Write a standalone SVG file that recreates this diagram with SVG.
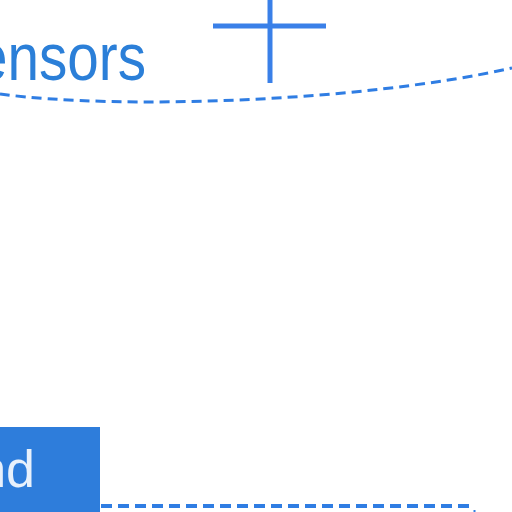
<svg xmlns="http://www.w3.org/2000/svg" width="512" height="512" viewBox="0 0 512 512">
<style>
.lbl{font-family:"Liberation Sans",Arial,sans-serif}
.dash{fill:none;stroke:#2f7de3}
</style>
<rect width="512" height="512" fill="#ffffff"/>
<g id="sensors">
<text class="lbl" x="-24" y="80" font-size="67" fill="#2b7fd8" textLength="170" lengthAdjust="spacingAndGlyphs">ensors</text>
</g>
<g id="plus">
<line x1="213" y1="26" x2="326" y2="26" stroke="#3a80e8" stroke-width="5"/>
<line x1="270" y1="0" x2="270" y2="83" stroke="#3a80e8" stroke-width="5"/>
</g>
<g id="backend">
<rect x="-2" y="427" width="102" height="90" fill="#2e7ddb"/>
<text class="lbl" x="35" y="487" font-size="52" fill="#e8f1fc" text-anchor="end">nd</text>
</g>
<g id="connectors">
<path class="dash" d="M0 94 C120 110 360 102 512 68" stroke-width="3" stroke-dasharray="10 6"/>
<path class="dash" d="M101 506 H473" stroke-width="4" stroke-dasharray="11 6"/>
<line x1="474.5" y1="510" x2="474.5" y2="512" stroke="#2f7de3" stroke-width="2"/>
</g>
</svg>
